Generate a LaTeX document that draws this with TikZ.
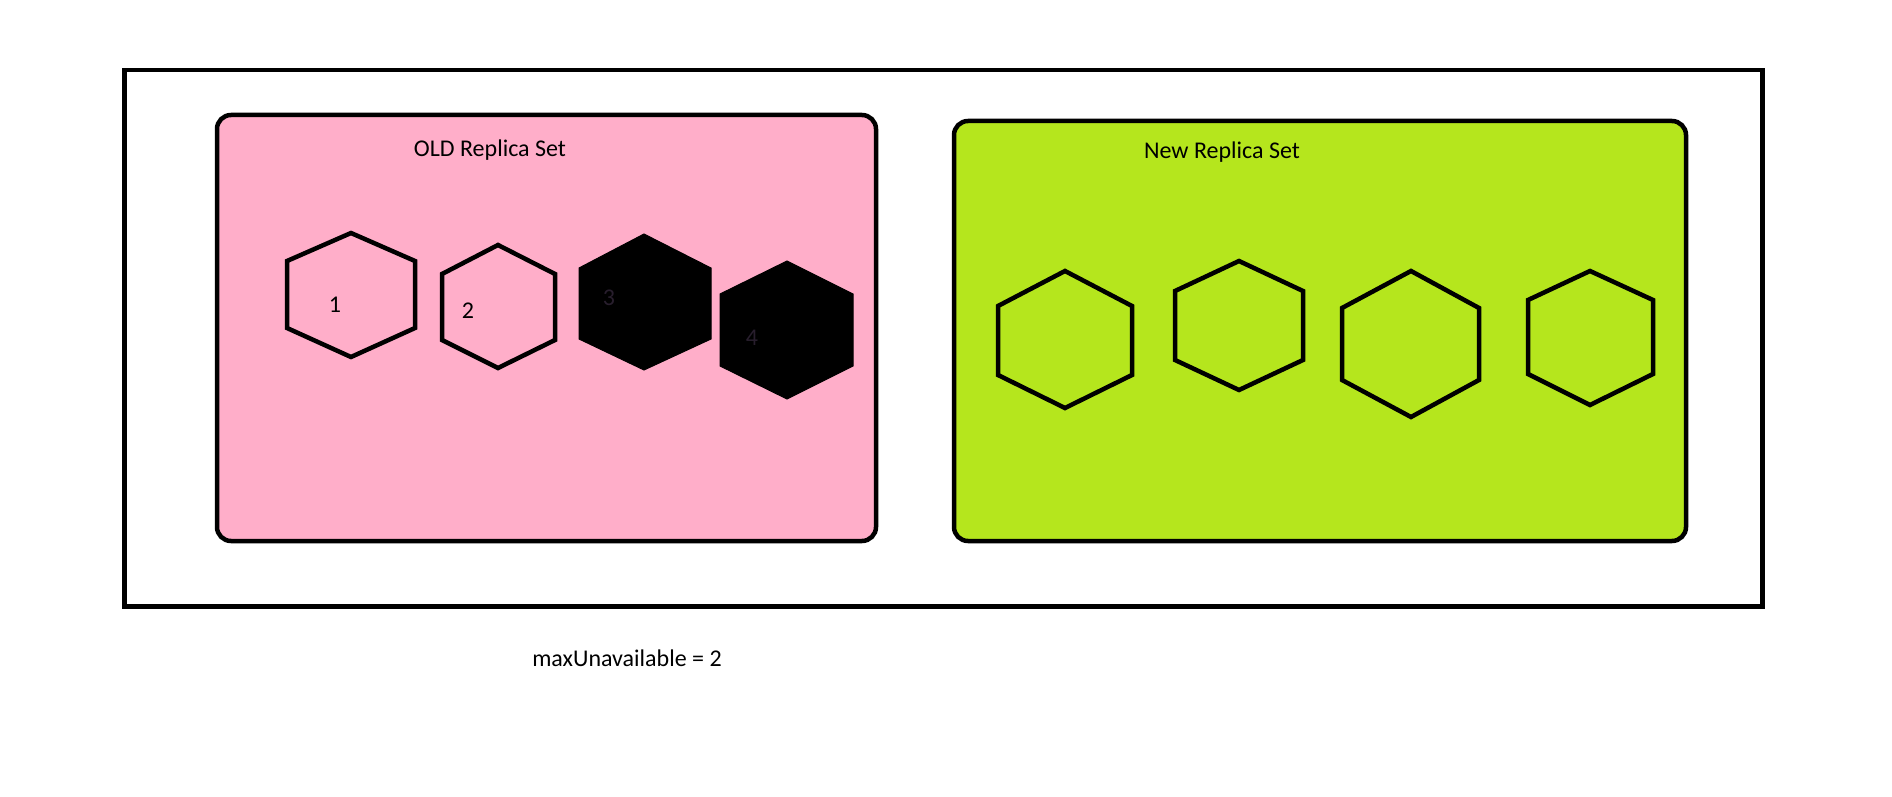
\documentclass[tikz,border=0pt]{standalone}
\usepackage{fontspec}
\setmainfont{Carlito}
\definecolor{rose}{RGB}{255,174,201}
\definecolor{lime}{RGB}{181,230,29}
\definecolor{hidtxt}{RGB}{40,30,45}
\newcommand{\hexshape}[9]{%
  % #1 style, #2 cx, #3 top, #4 bottom, #5 left, #6 right, #7 upper side y, #8 lower side y, #9 name
  \draw[#1] (#2,#3) coordinate (#9-t) -- (#6,#7) -- (#6,#8) -- (#2,#4) coordinate (#9-b) -- (#5,#8) -- (#5,#7) -- cycle;
}
\begin{document}
\begin{tikzpicture}[x=1pt,y=-1pt,
  frame/.style={draw=black,line width=4.5pt},
  setbox/.style={draw=black,line width=4.5pt,rounded corners=14pt},
  hexo/.style={draw=black,line width=4.5pt,line join=miter},
  hexf/.style={draw=black,fill=black,line width=1pt},
  lbl/.style={font=\fontsize{24}{28}\selectfont,text=black,inner sep=0pt},
  hid/.style={font=\fontsize{24}{28}\selectfont,text=hidtxt,inner sep=0pt}]
\useasboundingbox (0,0) rectangle (1892,797);
\fill[white] (0,0) rectangle (1892,797);
\node[frame,minimum width=1638pt,minimum height=536pt,anchor=north west,inner sep=0pt] (outer) at (122,68) {};
\filldraw[setbox,fill=rose] (217,115) rectangle (876,541);
\coordinate (oldbox) at (546,328);
\filldraw[setbox,fill=lime] (954,121) rectangle (1686,541);
\coordinate (newbox) at (1320,331);
\node[lbl] (oldt) at (490,150) {OLD Replica Set};
\node[lbl] (newt) at (1222,152) {New Replica Set};
\node[lbl] (maxu) at (627,658) {maxUnavailable = 2};
% old pods
\hexshape{hexo}{351}{233}{357}{287}{415}{261}{328}{h1}
\hexshape{hexo}{498}{245}{368}{442}{555}{274}{340}{h2}
\hexshape{hexf}{644}{234}{370}{579}{711}{268}{339}{h3}
\hexshape{hexf}{787}{261}{399}{720}{853}{294}{366}{h4}
\node[lbl] (n1) at (335,305) {1};
\node[lbl] (n2) at (468,311) {2};
\node[hid] (n3) at (609,298) {3};
\node[hid] (n4) at (752,338) {4};
% new pods
\hexshape{hexo}{1065}{271}{408}{998}{1132}{306}{375}{ha}
\hexshape{hexo}{1239}{261}{390}{1175}{1303}{291}{360}{hb}
\hexshape{hexo}{1411}{271}{417}{1342}{1479}{308}{380}{hc}
\hexshape{hexo}{1590}{271}{405}{1528}{1653}{300}{374}{hd}
\end{tikzpicture}
\end{document}
